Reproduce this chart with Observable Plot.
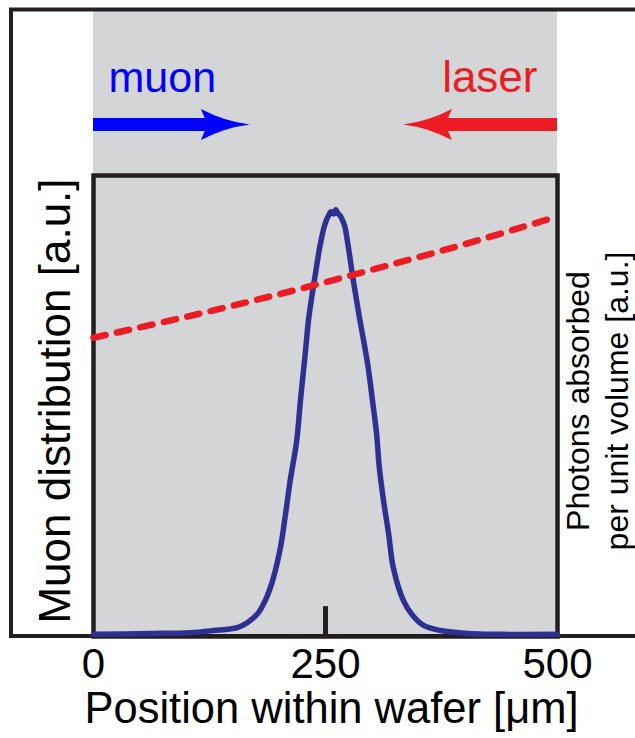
<!DOCTYPE html>
<html><head><meta charset="utf-8">
<script src="https://cdn.jsdelivr.net/npm/d3@7"></script>
<script src="https://cdn.jsdelivr.net/npm/@observablehq/plot@0.6"></script>
<style>html,body{margin:0;padding:0;background:#fff}</style>
</head><body><div id="chart"></div>
<script>
// ---- data ----
const muonPosition = [0, 61, 104, 129, 155, 166, 177, 185, 193, 201.5, 207, 212, 219, 223, 228.5, 232, 238, 244.6, 249, 253, 256, 259, 261, 263, 266, 270.5, 274, 280, 286.6, 291, 296, 300.6, 305, 308, 312.5, 318, 323, 334, 344, 355.6, 374, 403, 439, 500];
const muonDistribution = [0.005, 0.007, 0.009, 0.014, 0.021, 0.033, 0.054, 0.084, 0.131, 0.209, 0.288, 0.366, 0.459, 0.553, 0.670, 0.747, 0.834, 0.921, 0.963, 0.985, 0.995, 0.99, 1.0, 0.992, 0.985, 0.963, 0.921, 0.834, 0.747, 0.694, 0.630, 0.553, 0.476, 0.396, 0.319, 0.241, 0.162, 0.084, 0.049, 0.026, 0.014, 0.007, 0.005, 0.005];
const laserPosition = [0, 100, 200, 300, 400, 500];
const photonsAbsorbed = [0.700, 0.749, 0.802, 0.859, 0.919, 0.984];
const xTicks = [0, 250, 500];
const centerTick = [250];
const arrowLabels = ["muon", "laser"];
const muonArrow = [0, 169];   // tail, tip (µm)
const laserArrow = [500, 334];

const muon = muonPosition.map((x, i) => ({x, y: muonDistribution[i]}));
const laser = laserPosition.map((x, i) => ({x, y: photonsAbsorbed[i]}));

const FONT = "'Liberation Sans', Arial, Helvetica, sans-serif";
const BLACK = "#231f20";

function decorations(index, scales, values, dims) {
  const {x} = scales;
  const g = d3.create("svg:g");
  const x0 = x(0), x1 = x(500);
  // gray wafer band
  g.append("rect").attr("x", x0).attr("y", 11).attr("width", x1 - x0).attr("height", dims.height - dims.marginBottom - 11).attr("fill", "#d4d5d7");
  // outer frame
  g.append("path").attr("d", `M${dims.width + 5},9.5 H11 V636 H${dims.width + 5}`)
    .attr("fill", "none").attr("stroke", BLACK).attr("stroke-width", 4);
  // arrows
  const arrow = (tail, tip, color) => {
    const dir = Math.sign(tip - tail);
    const yc = 124.5;
    const back = tip - dir * 49, notch = tip - dir * 45, mid = tip - dir * 25;
    g.append("path").attr("fill", color).attr("d",
      `M${tail},${yc - 6.5} L${notch},${yc - 6.5} L${back},${yc - 15.5} Q${mid},${yc - 3} ${tip},${yc} Q${mid},${yc + 3} ${back},${yc + 15.5} L${notch},${yc + 6.5} L${tail},${yc + 6.5} Z`);
  };
  arrow(x(muonArrow[0]), x(muonArrow[1]), "#0000ff");
  arrow(x(laserArrow[0]), x(laserArrow[1]), "#ed1c24");
  return g.node();
}

const chart = Plot.plot({
  width: 635,
  height: 738,
  marginLeft: 93,
  marginRight: 78,
  marginTop: 175,
  marginBottom: 102,
  style: {fontFamily: FONT, background: "#fff", color: "#000", overflow: "visible"},
  x: {domain: [0, 500], label: null},
  y: {domain: [0, 1.08], axis: null, label: null},
  marks: [
    decorations,
    Plot.frame({stroke: BLACK, strokeWidth: 4.5}),
    Plot.ruleX(centerTick, {x: d => d, y1: 0, y2: 0.07, stroke: BLACK, strokeWidth: 5}),
    Plot.line(muon, {x: "x", y: "y", stroke: "#2e3192", strokeWidth: 5.5, curve: "catmull-rom"}),
    Plot.line(laser, {x: "x", y: "y", stroke: "#ed1c24", strokeWidth: 6.5, strokeDasharray: "12.5,11.5", curve: "catmull-rom"}),
    Plot.axisX(xTicks, {tickSize: 0, tickPadding: 12, fontSize: 42, label: null, tickFormat: d => String(d)}),
    Plot.text([arrowLabels[0]], {text: d => d, frameAnchor: "top-left", textAnchor: "start", lineAnchor: "bottom", dx: 15, dy: -84, fill: "#0000ff", fontSize: 43}),
    Plot.text([arrowLabels[1]], {text: d => d, frameAnchor: "top-right", textAnchor: "end", lineAnchor: "bottom", dx: -20, dy: -84, fill: "#ed1c24", fontSize: 44}),
    Plot.text(["Muon distribution [a.u.]"], {text: d => d, frameAnchor: "left", rotate: -90, textAnchor: "middle", lineAnchor: "bottom", dx: -24, dy: -5, fill: "#000", fontSize: 44}),
    Plot.text(["Photons absorbed\nper unit volume [a.u.]"], {text: d => d, frameAnchor: "right", rotate: -90, textAnchor: "middle", lineAnchor: "bottom", lineHeight: 1.2, dx: 70, dy: -5, fill: "#000", fontSize: 32}),
    Plot.text(["Position within wafer [μm]"], {text: d => d, frameAnchor: "bottom", textAnchor: "middle", lineAnchor: "bottom", dx: 6, dy: 86, fill: "#000", fontSize: 43.5})
  ]
});
document.getElementById("chart").appendChild(chart);
</script>
</body></html>
